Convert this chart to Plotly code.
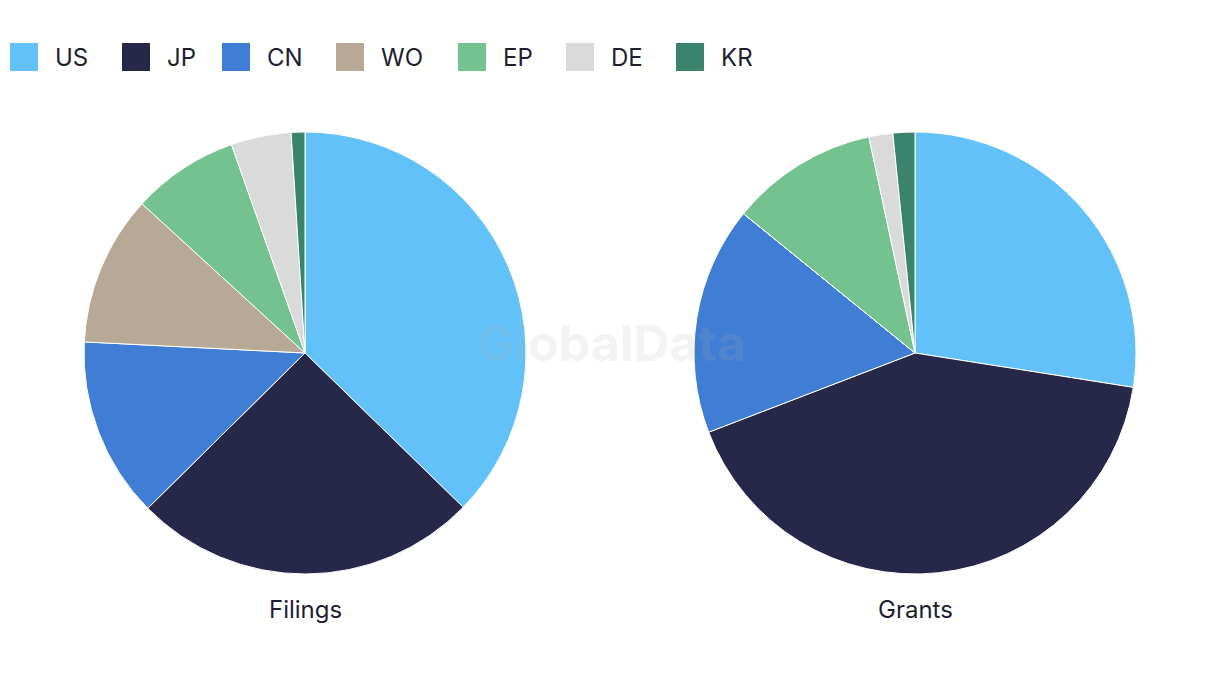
import plotly.graph_objects as go

categories = ["US", "JP", "CN", "WO", "EP", "DE", "KR"]
filings = [37.3, 25.3, 13.2, 11.0, 7.8, 4.4, 1.0]
grants = [27.5, 41.7, 16.7, 0.0, 10.8, 1.75, 1.6]
colors = ["#62C1F9", "#27274A", "#407DD5", "#B8A996", "#74C290", "#DADADA", "#3A836D"]
pie_titles = ["Filings", "Grants"]

W, H = 1220, 686
FONT = "Inter, Roboto, sans-serif"
TXT = "#1E1E30"

def px_x(v):
    return v / W

def px_y(v):
    return 1 - v / H

fig = go.Figure()
centers = [305, 915]
R = 221
cy = 353
for vals, cx, name in zip([filings, grants], centers, pie_titles):
    fig.add_trace(go.Pie(
        labels=categories, values=vals, name=name,
        marker=dict(colors=colors, line=dict(color="white", width=1)),
        sort=False, direction="clockwise", rotation=0,
        textinfo="none", showlegend=False,
        domain=dict(x=[px_x(cx - R), px_x(cx + R)], y=[px_y(cy + R), px_y(cy - R)]),
    ))

shapes = []
annotations = []
legend_x = [10, 122, 222, 336, 458, 566, 676]
for cat, col, lx in zip(categories, colors, legend_x):
    shapes.append(dict(type="rect", xref="paper", yref="paper",
                       x0=px_x(lx), x1=px_x(lx + 28), y0=px_y(71), y1=px_y(43),
                       fillcolor=col, line=dict(width=0)))
    annotations.append(dict(text=cat, x=px_x(lx + 43), y=px_y(57), xref="paper", yref="paper",
                            xanchor="left", yanchor="middle", showarrow=False,
                            font=dict(family=FONT, size=24, color=TXT)))

for cx, t in zip(centers, pie_titles):
    annotations.append(dict(text=t, x=px_x(cx), y=px_y(609), xref="paper", yref="paper",
                            xanchor="center", yanchor="middle", showarrow=False,
                            font=dict(family=FONT, size=24, color=TXT)))

annotations.append(dict(text="<b>GlobalData</b>", x=px_x(611), y=px_y(343), xref="paper", yref="paper",
                        xanchor="center", yanchor="middle", showarrow=False, opacity=0.14,
                        font=dict(family=FONT, size=50, color="#B0B0B0")))

fig.update_layout(
    width=W, height=H, margin=dict(l=0, r=0, t=0, b=0),
    paper_bgcolor="white", plot_bgcolor="white",
    shapes=shapes, annotations=annotations, showlegend=False,
)
fig.write_html("out.html")
